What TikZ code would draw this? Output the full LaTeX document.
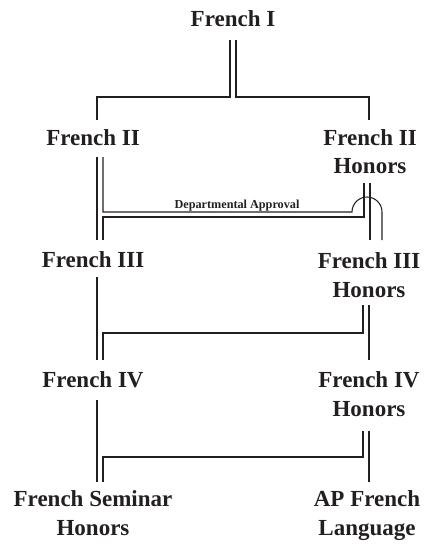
\documentclass[tikz,border=0pt]{standalone}
\usepackage{fontspec}
\setmainfont{Liberation Serif}
\usetikzlibrary{calc}
\definecolor{ink}{HTML}{231F20}
\tikzset{
  course/.style={inner sep=0pt, anchor=base, align=center, text=ink,
    font={\fontsize{23}{28.5}\selectfont\bfseries}},
  note/.style={inner sep=0pt, anchor=base, text=ink,
    font={\fontsize{12.2}{13}\selectfont\bfseries}},
  ln/.style={draw=ink, line width=1.05pt}
}
\begin{document}
\begin{tikzpicture}[x=1pt,y=1pt]
\useasboundingbox (0,0) rectangle (425,-546);
% base anchor of a two-line node = baseline of its last line
\node[course] (f1) at (233,-27) {French I};
\node[course] (f2) at (93,-145) {French II};
\node[course] (f2h) at (370,-173.5) {French II\\Honors};
\node[course] (f3) at (93,-267) {French III};
\node[course] (f3h) at (369,-297) {French III\\Honors};
\node[course] (f4) at (93,-387) {French IV};
\node[course] (f4h) at (369,-416) {French IV\\Honors};
\node[course] (fs) at (93,-535) {French Seminar\\Honors};
\node[course] (ap) at (367,-535) {AP French\\Language};
\node[note] (da) at (237,-208) {Departmental Approval};
% French I
\draw[ln] ([shift={(-3,-13)}]f1.base) -- ++(0,-57) -| ([shift={(4,25)}]f2.base);
\draw[ln] ([shift={(3,-13)}]f1.base) -- ++(0,-57) -| ([shift={(-1,53.5)}]f2h.base);
% French II level
\draw[ln] ([shift={(4,-12)}]f2.base) -- ([shift={(4,27)}]f3.base);
\draw[ln] ([shift={(10,-12)}]f2.base) |- (352,-212)
  arc[start angle=180,end angle=0,radius=15] -- ([shift={(13,57)}]f3h.base);
\draw[ln] ([shift={(-6,-9.5)}]f2h.base) -- ++(0,-34) -| ([shift={(10,27)}]f3.base);
\draw[ln] ([shift={(0,-9.5)}]f2h.base) -- ([shift={(1,57)}]f3h.base);
% French III level
\draw[ln] ([shift={(4,-10)}]f3.base) -- ([shift={(4,27)}]f4.base);
\draw[ln] ([shift={(-6,-8)}]f3h.base) -- ++(0,-28) -| ([shift={(10,27)}]f4.base);
\draw[ln] ([shift={(0,-8)}]f3h.base) -- ([shift={(0,56)}]f4h.base);
% French IV level
\draw[ln] ([shift={(4,-13)}]f4.base) -- ([shift={(4,53)}]fs.base);
\draw[ln] ([shift={(-6,-15)}]f4h.base) -- ++(0,-26) -| ([shift={(10,53)}]fs.base);
\draw[ln] ([shift={(0,-15)}]f4h.base) -- ([shift={(2,53)}]ap.base);
\end{tikzpicture}
\end{document}
